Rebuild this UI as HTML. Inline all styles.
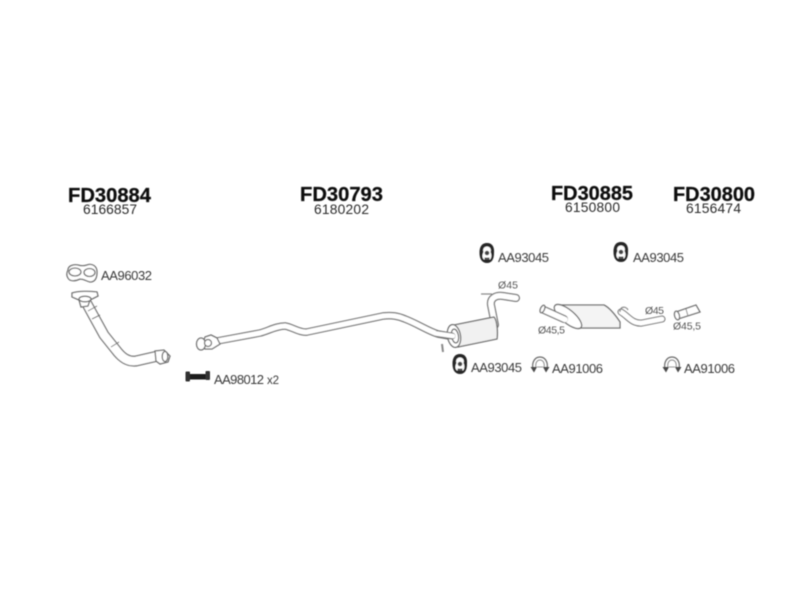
<!DOCTYPE html>
<html><head><meta charset="utf-8"><style>
html,body{margin:0;padding:0;background:#fff}
svg{display:block}
text{font-family:"Liberation Sans",Arial,sans-serif;fill:#3c3c3c}
.h{font-weight:bold;font-size:20px;fill:#111;stroke:#111;stroke-width:.25}
.s{font-size:13.8px;fill:#2c2c2c}
.l{font-size:13px;fill:#3a3a3a}
.d{font-size:10.5px;fill:#555}
.o{fill:none;stroke:#777;stroke-linecap:round;stroke-linejoin:round}
.i{fill:none;stroke:#fff;stroke-linecap:round;stroke-linejoin:round}
.f{fill:#fff;stroke:#6e6e6e;stroke-width:1.3}
</style></head><body>
<svg width="800" height="600" viewBox="0 0 800 600" xmlns="http://www.w3.org/2000/svg">
<defs>
<filter id="b" x="-5%" y="-5%" width="110%" height="110%"><feGaussianBlur stdDeviation="0.45"/></filter>
<g id="hanger"><path d="M0,-10 C6,-10 7.5,-5 7,0 C7,6 5,10 0,10 C-5,10 -7.5,6 -7.5,0 C-7.5,-5 -6,-10 0,-10Z" fill="#262626"/><path d="M0,-6.5 C3.5,-6.5 4.5,-3 3.5,-1 C5,2 4.5,5 3,6.5 L-3,6.5 C-5,5 -5,2 -3.5,-1 C-4.5,-3 -3.5,-6.5 0,-6.5Z" fill="#fff"/><circle cx="0" cy="0" r="2.3" fill="#444"/><rect x="-2.5" y="4.5" width="5" height="2" fill="#555"/></g>
<g id="clamp"><path d="M-7,4 C-8.5,-3 -5,-8 0,-8 C5,-8 8.5,-3 7,4" fill="none" stroke="#6a6a6a" stroke-width="1.2"/><path d="M-4,3 C-5,-2 -3,-5 0,-5 C3,-5 5,-2 4,3" fill="none" stroke="#8a8a8a" stroke-width="1"/><path d="M-9.5,2 L-3,2 L-6,7.5 Z M3,2 L9.5,2 L6,7.5 Z" fill="#4a4a4a"/><path d="M-3,2 L3,2" stroke="#999" stroke-width="1"/></g>
</defs>
<g filter="url(#b)">
<text class="h" x="68" y="202" textLength="83" lengthAdjust="spacingAndGlyphs">FD30884</text>
<text class="s" x="83" y="214" textLength="54">6166857</text>
<text class="h" x="300" y="201" textLength="83" lengthAdjust="spacingAndGlyphs">FD30793</text>
<text class="s" x="314" y="214" textLength="55">6180202</text>
<text class="h" x="551" y="200" textLength="82" lengthAdjust="spacingAndGlyphs">FD30885</text>
<text class="s" x="565" y="212" textLength="55">6150800</text>
<text class="h" x="673" y="201" textLength="82" lengthAdjust="spacingAndGlyphs">FD30800</text>
<text class="s" x="686" y="213" textLength="55">6156474</text>

<!-- gasket -->
<path class="f" d="M68,270 C68,266 73,264 78,265 C81,266 84,266 87,265 C92,263 97,266 97,272 C97,278 95,282 90,282 C86,281 84,279 80,279 C76,281 70,282 68,278 C66,275 67,272 68,270Z"/>
<ellipse class="f" cx="75" cy="272" rx="6" ry="4"/><ellipse class="f" cx="89.5" cy="272.5" rx="5.5" ry="4"/>
<text class="l" x="101" y="280" textLength="51">AA96032</text>

<!-- front pipe -->
<path class="o" stroke-width="11" d="M87,304 L93,315 L104,335 L116,350 C122,358 128,362 136,361 L158,356"/>
<path class="i" stroke-width="8.4" d="M87,304 L93,315 L104,335 L116,350 C122,358 128,362 136,361 L158,356"/>
<path d="M88,311 L97,306 M92,319 L100,315 M111,347 L119,342" stroke="#777" stroke-width="1"/>
<path class="f" d="M72,293 C78,291 90,291 97,292 L98,296 L90,300 L88,306 L81,307 L79,300 L72,297Z"/>
<ellipse class="f" cx="85" cy="299" rx="6" ry="2.8"/>
<path class="f" d="M155,351 L164,350 L170,356 L168,362 L160,364 L156,361Z"/>
<ellipse class="f" cx="165" cy="356.5" rx="2.8" ry="5"/>

<!-- bolt -->
<rect x="188" y="374" width="20" height="5.5" fill="#1c1c1c"/>
<rect x="185.5" y="371.5" width="4.5" height="10" rx="1" fill="#333"/>
<rect x="205.5" y="371" width="4.5" height="9" rx="1" fill="#333"/>
<text class="l" x="214" y="384" textLength="50">AA98012</text>
<text class="l" x="267" y="384" textLength="12" style="font-size:11.5px">x2</text>

<!-- main pipe -->
<path class="o" stroke-width="7.5" d="M217,341 L260,333 C268,331 276,326 285,326 C292,327 300,333 307,332 L383,316 C392,315 398,316 405,319 C418,324 428,331 438,334 L449,336"/>
<path class="i" stroke-width="5" d="M217,341 L260,333 C268,331 276,326 285,326 C292,327 300,333 307,332 L383,316 C392,315 398,316 405,319 C418,324 428,331 438,334 L449,336"/>
<path class="f" d="M205,337 L211,335 L217,338 L220,344 L212,349 L205,349 L203,344Z"/>
<ellipse class="f" cx="201" cy="344" rx="4.5" ry="6"/>
<circle class="f" cx="208" cy="343" r="3.5"/>

<!-- muffler 1 tail -->
<path class="o" stroke-width="8" d="M495,325 L491,305 C490,298 496,295 503,296 L516,298"/>
<path class="i" stroke-width="5.5" d="M495,325 L491,305 C490,298 496,295 503,296 L516,298"/>
<path d="M481,294 L492,294" stroke="#888" stroke-width="1.2"/>
<path d="M442,344 L443,352" stroke="#888" stroke-width="2"/>
<!-- muffler 1 -->
<path class="f" d="M454,325 L494,317 C497,320 498,332 497,339 L458,347Z" style="fill:#f1f1f1"/>
<ellipse class="f" cx="454" cy="336" rx="6.5" ry="11.5" transform="rotate(-10 454 336)" stroke-width="1.8"/>
<ellipse class="f" cx="455" cy="336" rx="3.5" ry="7" transform="rotate(-10 455 336)"/>
<path class="o" stroke-width="7" d="M438,334 L452,336"/><path class="i" stroke-width="4.6" d="M436,333.5 L453,336"/>
<text class="d" x="498" y="288.5" textLength="20">Ø45</text>

<!-- hangers -->
<use href="#hanger" x="487" y="253"/>
<text class="l" x="498" y="262" textLength="51">AA93045</text>
<use href="#hanger" x="621" y="252"/>
<text class="l" x="633" y="262" textLength="51">AA93045</text>
<use href="#hanger" x="460" y="364"/>
<text class="l" x="471" y="372" textLength="51">AA93045</text>

<!-- clamps -->
<use href="#clamp" x="540" y="365"/>
<text class="l" x="552" y="373" textLength="51">AA91006</text>
<use href="#clamp" x="672" y="365"/>
<text class="l" x="684" y="373" textLength="51">AA91006</text>

<!-- muffler 2 -->
<path class="o" stroke-width="7" d="M621,312 C628,316 632,324 642,323 L662,319"/>
<path class="i" stroke-width="4.8" d="M621,312 C628,316 632,324 642,323 L662,319"/>
<path d="M620,312 C620,306 626,306 628,310" fill="none" stroke="#888" stroke-width="1.2"/>
<path class="f" d="M558,305 L604,305 C610,308 616,316 620,322 L620,328 L580,328Z" style="fill:#f4f4f4"/>
<ellipse class="f" cx="568" cy="316.5" rx="17" ry="6.5" transform="rotate(40 568 316.5)" stroke-width="1.5"/>
<path class="o" stroke-width="8" d="M544,310 L564,319"/><path class="i" stroke-width="5.6" d="M544,310 L565,319.5"/>
<ellipse class="f" cx="542.5" cy="309" rx="2" ry="4" transform="rotate(25 542.5 309)"/>
<text class="d" x="538" y="333.5" textLength="27">Ø45,5</text>
<text class="d" x="645" y="314" textLength="19">Ø45</text>

<!-- pipe 3 -->
<path class="f" d="M676,312 L696,305 L700,312 L678,319 C675,318 675,314 676,312Z"/>
<ellipse class="f" cx="677" cy="315.5" rx="2.4" ry="4.4" transform="rotate(-15 677 315.5)"/>
<path d="M686,309 L688,316" stroke="#888" stroke-width="1"/>
<text class="d" x="673" y="329.5" textLength="28">Ø45,5</text>
</g>
</svg>
</body></html>
